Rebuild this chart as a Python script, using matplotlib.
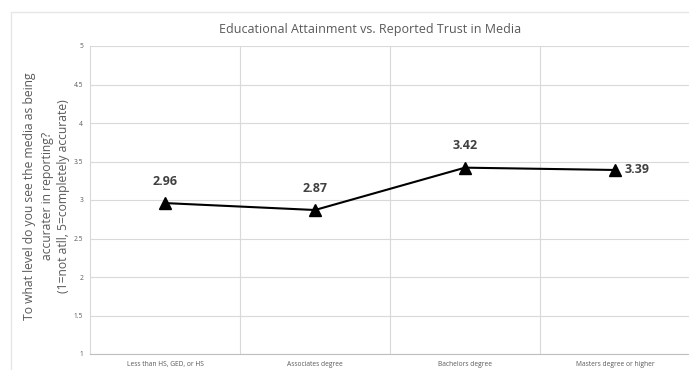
import matplotlib.pyplot as plt
from matplotlib.patches import Rectangle

categories = ["Less than HS, GED, or HS", "Associates degree",
              "Bachelors degree", "Masters degree or higher"]
trust = [2.96, 2.87, 3.42, 3.39]
yticks = [1, 1.5, 2, 2.5, 3, 3.5, 4, 4.5, 5]
ytick_labels = ["1", "1.5", "2", "2.5", "3", "3.5", "4", "4.5", "5"]

plt.rcParams['font.family'] = ['Open Sans', 'DejaVu Sans']

fig = plt.figure(figsize=(6.89, 3.70), dpi=100)

# light chart border like the spreadsheet chart frame
fig.patches.append(Rectangle((11 / 689, -0.1), 1.0, 1 - 12 / 370 + 0.1,
                             transform=fig.transFigure, fill=False,
                             edgecolor="#e6e6e6", linewidth=1.0))

ax = fig.add_axes([90 / 689, 1 - 354 / 370, 600 / 689, 308 / 370])

x = list(range(len(categories)))
ax.plot(x, trust, color="black", linewidth=1.5, marker="^",
        markersize=8, markerfacecolor="black", zorder=3)

for i, v in enumerate(trust):
    if i == len(trust) - 1:
        ax.annotate(f"{v:.2f}", (i, v), xytext=(7, 0), textcoords="offset points",
                    ha="left", va="center", fontsize=9, fontweight="bold",
                    color="#404040")
    else:
        ax.annotate(f"{v:.2f}", (i, v), xytext=(0, 11), textcoords="offset points",
                    ha="center", va="bottom", fontsize=9, fontweight="bold",
                    color="#404040")

ax.set_xlim(-0.5, len(categories) - 0.5)
ax.set_ylim(1, 5)
ax.set_yticks(yticks)
ax.set_yticklabels(ytick_labels)
ax.set_xticks(x)
ax.set_xticklabels(categories)
ax.set_xticks([i + 0.5 for i in range(len(categories) - 1)], minor=True)

ax.tick_params(axis="both", which="both", length=0, labelsize=4.8,
               labelcolor="#595959")
ax.tick_params(axis="x", pad=5)
ax.tick_params(axis="y", pad=5)

ax.grid(axis="y", which="major", color="#d9d9d9", linewidth=0.8)
ax.grid(axis="x", which="minor", color="#d9d9d9", linewidth=0.8)
ax.grid(axis="x", which="major", visible=False)
ax.set_axisbelow(True)

for side in ["top", "right"]:
    ax.spines[side].set_visible(False)
ax.spines["left"].set_color("#d9d9d9")
ax.spines["bottom"].set_color("#bfbfbf")

fig.text(47 / 689, 1 - 196 / 370,
         "To what level do you see the media as being\naccurater in reporting?\n(1=not atll, 5=completely accurate)",
         rotation=90, ha="center", va="center", multialignment="center",
         fontsize=8.7, color="#595959", linespacing=1.4)

fig.text(370 / 689, 1 - 29 / 370,
         "Educational Attainment vs. Reported Trust in Media",
         ha="center", va="center", fontsize=9, color="#595959")

fig.savefig("out.png", dpi=100)
